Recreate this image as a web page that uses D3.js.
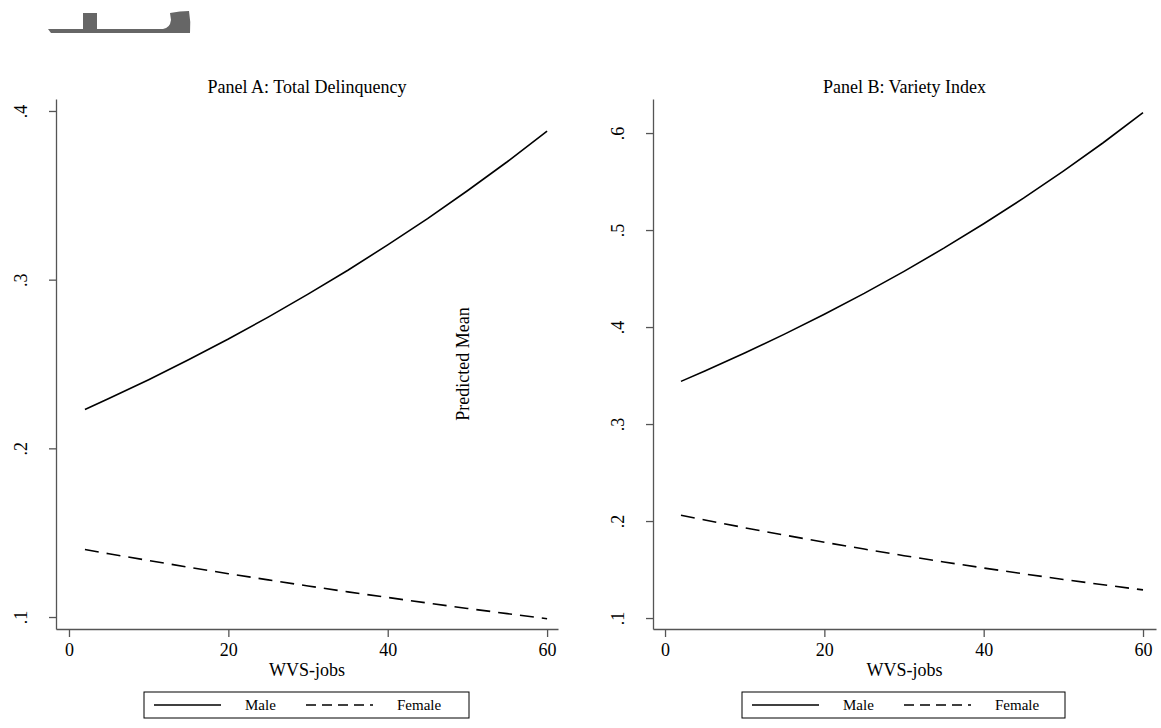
<!DOCTYPE html>
<html lang="en">
<head>
<meta charset="UTF-8">
<title>Predicted Mean by WVS-jobs</title>
<script src="https://cdnjs.cloudflare.com/ajax/libs/d3/7.8.5/d3.min.js"></script>
<style>
    body { margin: 0; background: #fff; }
    svg { display: block; font-family: 'Liberation Serif', 'Times New Roman', serif; }
    .axis path, .axis line { stroke: #555; stroke-width: 1.3; }
    .axis text { font-size: 18px; fill: #000; font-family: 'Liberation Serif', 'Times New Roman', serif; }
</style>
</head>
<body>
<div id="chart"></div>
<script>
// values
const wvsJobs = [2, 5, 10, 15, 20, 25, 30, 35, 40, 45, 50, 55, 60];
const delinqMale   = [0.223, 0.2295, 0.2407, 0.2525, 0.2648, 0.2778, 0.2914, 0.3056, 0.3206, 0.3362, 0.3527, 0.3699, 0.388];
const delinqFemale = [0.140, 0.1375, 0.1335, 0.1295, 0.1257, 0.1220, 0.1184, 0.1149, 0.1116, 0.1083, 0.1051, 0.1020, 0.099];
const varietyMale   = [0.344, 0.3547, 0.3732, 0.3927, 0.4132, 0.4347, 0.4574, 0.4813, 0.5065, 0.5329, 0.5608, 0.5900, 0.621];
const varietyFemale = [0.206, 0.2011, 0.1931, 0.1855, 0.1781, 0.1711, 0.1643, 0.1578, 0.1516, 0.1456, 0.1398, 0.1343, 0.129];
const xTicks = [0, 20, 40, 60];
const yTicksA = [0.1, 0.2, 0.3, 0.4];
const yTicksB = [0.1, 0.2, 0.3, 0.4, 0.5, 0.6];
const seriesNames = ["Male", "Female"];

const width = 1161, height = 728;
const svg = d3.select("#chart").append("svg")
    .attr("width", width).attr("height", height);

// grey fragment at top left
svg.append("path")
    .attr("d", "M48,29 L83,29 L83,13 L97,13 L97,29 L163,29 Q170,28 171,20 L170,13 Q180,11 189,11 Q191,22 190,33 L51,33 Z")
    .attr("fill", "#666");

const panels = [
    { title: "Panel A: Total Delinquency", male: delinqMale, female: delinqFemale,
      yTicks: yTicksA, yDomain: [0.0929, 0.4071], left: 56, right: 558, xDomain: [-1.63, 61.37],
      legend: [144, 469] },
    { title: "Panel B: Variety Index", male: varietyMale, female: varietyFemale,
      yTicks: yTicksB, yDomain: [0.0887, 0.6351], left: 653, right: 1156, xDomain: [-1.51, 61.63],
      legend: [742, 1065] }
];

const plotTop = 99, plotBottom = 629;
const fmtY = d => d3.format(".1f")(d).replace(/^0/, "");

panels.forEach(p => {
    const x = d3.scaleLinear().domain(p.xDomain).range([p.left, p.right]);
    const y = d3.scaleLinear().domain(p.yDomain).range([plotBottom, plotTop]);

    const yAxis = svg.append("g").attr("class", "axis")
        .attr("transform", `translate(${p.left},0)`)
        .call(d3.axisLeft(y).tickValues(p.yTicks).tickFormat(fmtY).tickSize(7).tickSizeOuter(0));
    yAxis.selectAll(".tick text")
        .attr("transform", "rotate(-90)")
        .attr("text-anchor", "middle")
        .attr("x", 0).attr("y", -29).attr("dy", 0);

    svg.append("g").attr("class", "axis")
        .attr("transform", `translate(0,${plotBottom})`)
        .call(d3.axisBottom(x).tickValues(xTicks).tickSize(8).tickPadding(6).tickSizeOuter(0));

    const cx = (p.left + p.right) / 2;
    svg.append("text").attr("x", cx).attr("y", 93)
        .attr("text-anchor", "middle").attr("font-size", 18).text(p.title);
    svg.append("text").attr("x", cx).attr("y", 676)
        .attr("text-anchor", "middle").attr("font-size", 18).text("WVS-jobs");

    const line = d3.line().x((d, i) => x(wvsJobs[i])).y(d => y(d));
    svg.append("path").datum(p.male).attr("d", line)
        .attr("fill", "none").attr("stroke", "#000").attr("stroke-width", 1.6);
    svg.append("path").datum(p.female).attr("d", line)
        .attr("fill", "none").attr("stroke", "#000").attr("stroke-width", 1.6)
        .attr("stroke-dasharray", "14,8");

    // legend
    const [lx0, lx1] = p.legend;
    const lg = svg.append("g");
    lg.append("rect").attr("x", lx0).attr("y", 692).attr("width", lx1 - lx0).attr("height", 26)
        .attr("fill", "#fff").attr("stroke", "#000").attr("stroke-width", 1);
    seriesNames.forEach((name, i) => {
        const sx = lx0 + 10 + i * 152;
        lg.append("line").attr("x1", sx).attr("x2", sx + 67).attr("y1", 705).attr("y2", 705)
            .attr("stroke", "#000").attr("stroke-width", 1.6)
            .attr("stroke-dasharray", i === 1 ? "10,6" : null);
        lg.append("text").attr("x", sx + 91).attr("y", 710).attr("font-size", 15).text(name);
    });
});

// shared y title, placed between the panels as in the original
svg.append("text")
    .attr("transform", "translate(463,364) rotate(-90)")
    .attr("text-anchor", "middle").attr("dy", "0.35em").attr("font-size", 18)
    .text("Predicted Mean");
</script>
</body>
</html>
